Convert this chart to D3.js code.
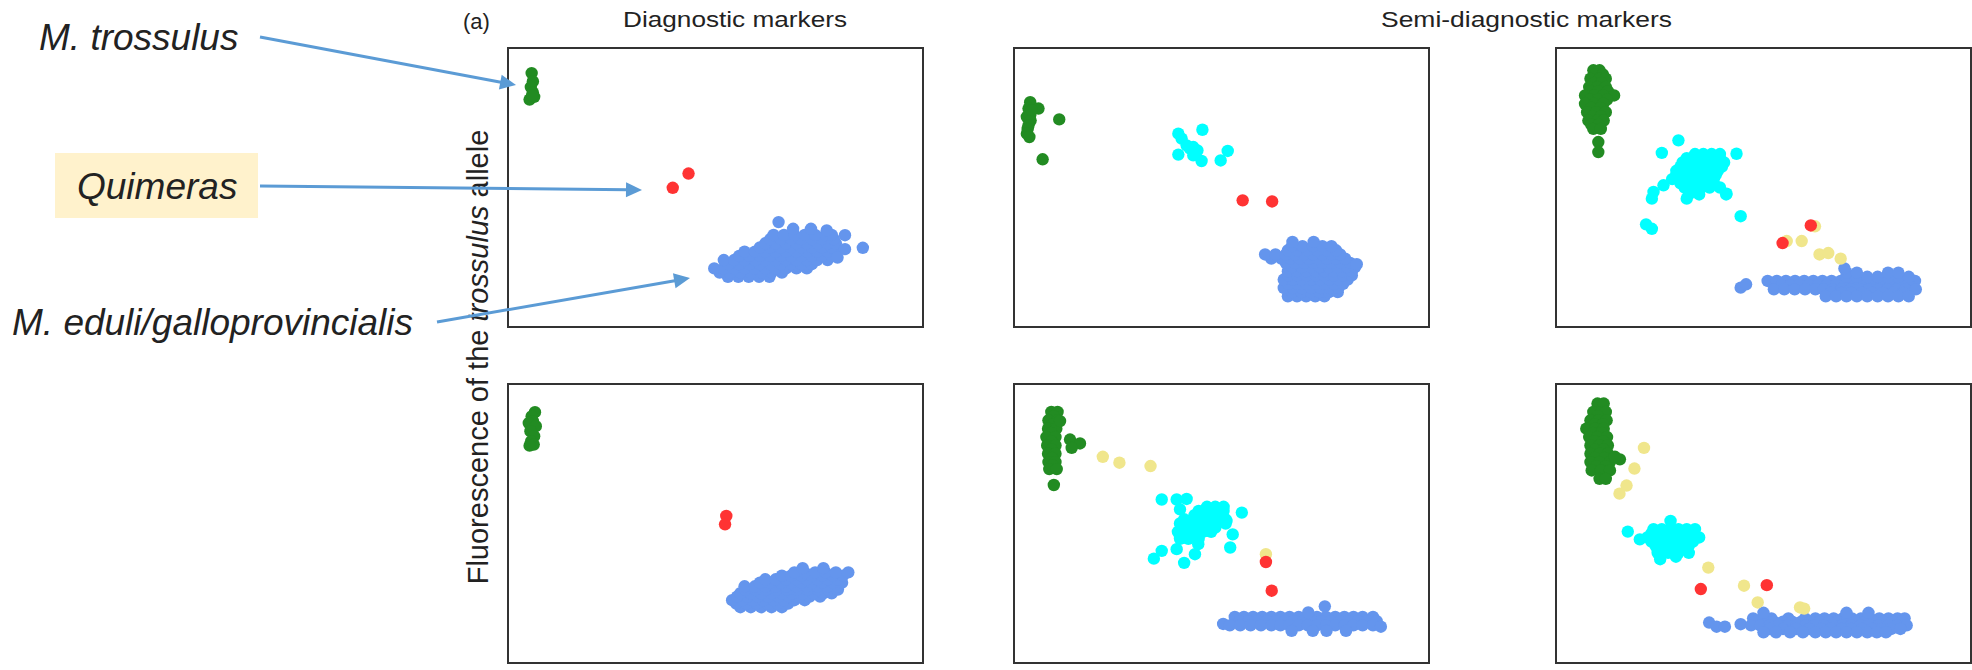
<!DOCTYPE html>
<html>
<head>
<meta charset="utf-8">
<script src="https://cdn.jsdelivr.net/npm/d3@7/dist/d3.min.js"></script>
<style>
  body { margin: 0; background: #fff; }
  text { font-family: "Liberation Sans", Arial, Helvetica, sans-serif; fill: #222; }
</style>
</head>
<body>
<script>
// genotype groups, drawn in this order
var groups = ["trossulus", "heterozygote", "eduli", "undetermined", "quimera"];
var columnTitles = ["Diagnostic markers", "Semi-diagnostic markers"];
var speciesLabels = ["M. trossulus", "Quimeras", "M. eduli/galloprovincialis"];

// values, 0-100 in each panel (x: other allele, y: trossulus allele)
// --- diagnostic marker, top
var d1Tross = [[5.7,91],[6,88],[5.5,86],[6,84],[6.3,82.5],[5.2,81.5],[5.8,83]];
var d1Quim = [[43.5,55],[39.7,49.9]];
var d1Edul = [[53,18],[55.5,18],[58,18],[60.5,18],[63,18],
  [51,19.5],[53.5,19.5],[56,19.5],[58.5,19.5],[61,19.5],[63.5,19.5],[66,19.5],
  [49.7,21],[52,21],[54.5,21],[57,21],[59.5,21],[62,21],[64.5,21],[67,21],[69.5,21],[72,21],
  [53.2,22.5],[55.7,22.5],[58.2,22.5],[60.7,22.5],[63.2,22.5],[65.7,22.5],[68.2,22.5],[70.7,22.5],[73.2,22.5],
  [52,24],[54.5,24],[57,24],[59.5,24],[62,24],[64.5,24],[67,24],[69.5,24],[72,24],[74.5,24],[77,24],
  [55.7,25.5],[58.2,25.5],[60.7,25.5],[63.2,25.5],[65.7,25.5],[68.2,25.5],[70.7,25.5],[73.2,25.5],[75.7,25.5],[78,25.5],
  [57,27],[59.5,27],[62,27],[64.5,27],[67,27],[69.5,27],[72,27],[74.5,27],[77,27],[79,27],
  [60.7,28.5],[63.2,28.5],[65.7,28.5],[68.2,28.5],[70.7,28.5],[73.2,28.5],[75.7,28.5],[78,28.5],
  [62,30],[64.5,30],[67,30],[69.5,30],[72,30],[74.5,30],[77,30],[79,30],
  [63.2,31.5],[65.7,31.5],[68.2,31.5],[70.7,31.5],[73.2,31.5],[75.7,31.5],[78.5,31.5],
  [64,33],[66.5,33],[69,33],[71.5,33],[74,33],[76.5,33],[78,33],
  [68.7,35.2],[73,35.2],[76.8,34.6],[65.2,37.6],
  [81.2,32.9],[85.5,28.4],[81.2,27.9],[79.4,24.9]];

// --- diagnostic marker, bottom
var d2Tross = [[6.5,89.9],[5.7,88.4],[6,86.7],[5,86],[6.7,84.9],[5.4,83.1],[6.3,81.3],[5.6,79.5],[6.2,78.3],[5.2,77.9]];
var d2Quim = [[52.6,52.7],[52.3,49.7]];
var d2Edul = [[56,20],[58.5,20],[61,20],[63.5,20],[66,20],
  [55,21.3],[57.5,21.3],[60,21.3],[62.5,21.3],[65,21.3],[67.5,21.3],
  [54,22.5],[56.5,22.5],[59,22.5],[61.5,22.5],[64,22.5],[66.5,22.5],[69,22.5],[71.5,22.5],
  [55.2,23.8],[57.7,23.8],[60.2,23.8],[62.7,23.8],[65.2,23.8],[67.7,23.8],[70.2,23.8],[72.7,23.8],[75.2,23.8],
  [56,25],[58.5,25],[61,25],[63.5,25],[66,25],[68.5,25],[71,25],[73.5,25],[76,25],[78,25],
  [57.2,26.3],[59.7,26.3],[62.2,26.3],[64.7,26.3],[67.2,26.3],[69.7,26.3],[72.2,26.3],[74.7,26.3],[77.2,26.3],[79.5,26.3],
  [57,27.5],[59.5,27.5],[62,27.5],[64.5,27.5],[67,27.5],[69.5,27.5],[72,27.5],[74.5,27.5],[77,27.5],[79.5,27.5],
  [60.7,28.8],[63.2,28.8],[65.7,28.8],[68.2,28.8],[70.7,28.8],[73.2,28.8],[75.7,28.8],[78.2,28.8],[80.5,28.8],
  [62,30],[64.5,30],[67,30],[69.5,30],[72,30],[74.5,30],[77,30],[79.5,30],
  [66,31.3],[68.2,31.3],[70.7,31.3],[73.2,31.3],[75.7,31.3],[78.2,31.3],[80.7,31.3],
  [69,32.5],[71.5,32.5],[74,32.5],[76.5,32.5],[79,32.5],[82,32.5],
  [71,34],[76,34]];

// --- semi-diagnostic marker 1, top
var s1Tross = [[3.9,80.6],[3.5,78.3],[5.9,78.3],[3.1,75.3],[3.9,75.9],[4,74],[3.5,72.3],[3.3,71],
  [3.1,69.3],[3.7,68.1],[4.3,77.7],[10.9,74.4],[6.9,60.1]];
var s1Het = [[39.6,69.3],[45.4,70.7],[40.4,67.5],[41.6,65.1],[43.2,64.5],[44.2,63.3],[39.6,61.8],
  [43.2,61.5],[45.2,59.5],[49.8,59.7],[51.5,63.1],[42.4,63.9]];
var s1Quim = [[55.1,45.4],[62.2,45]];
var s1Edul = [[66,11],[68.2,11],[70.4,11],[72.6,11],[74.8,11],
  [67,12.5],[69.3,12.5],[71.5,12.5],[73.7,12.5],[75.9,12.5],[78,12.5],
  [65,14],[67.2,14],[69.4,14],[71.6,14],[73.8,14],[76,14],[78.2,14],
  [66.1,15.5],[68.3,15.5],[70.5,15.5],[72.7,15.5],[74.9,15.5],[77.1,15.5],[79.3,15.5],
  [65,17],[67.2,17],[69.4,17],[71.6,17],[73.8,17],[76,17],[78.2,17],[80.4,17],
  [66.1,18.5],[68.3,18.5],[70.5,18.5],[72.7,18.5],[74.9,18.5],[77.1,18.5],[79.3,18.5],[81.4,18.5],
  [66,20],[68.2,20],[70.4,20],[72.6,20],[74.8,20],[77,20],[79.2,20],[81.4,20],
  [67,21.5],[69.3,21.5],[71.5,21.5],[73.7,21.5],[75.9,21.5],[78,21.5],[80.2,21.5],[82.2,21.5],
  [65.5,23],[67.7,23],[69.9,23],[72.1,23],[74.3,23],[76.5,23],[78.7,23],[81,23],[82.6,22.5],
  [62,24.5],[64.4,24.5],[66.6,24.5],[68.8,24.5],[71,24.5],[73.2,24.5],[75.4,24.5],[77.6,24.5],[79.8,24.5],
  [60.5,26],[63,26],[65.5,26],[67.7,26],[69.9,26],[72.1,26],[74.3,26],[76.5,26],[78.6,26],
  [66,27.5],[68.2,27.5],[70.7,27.5],[73.1,27.5],[75.4,27.5],[77.6,27.5],
  [67,29],[69.5,29],[72,29],[74.3,29],[76.5,29],[67.1,30.5],[72.2,30.5]];

// --- semi-diagnostic marker 2, top
var s2Tross = [[9,92],[10.5,92],[9.5,90.5],[11.3,90.5],[8.3,89],[10.5,89],[12,89],[9.2,87.5],[11,87.5],
  [8,86],[10,86],[12,86],[8.2,84.5],[10.2,84.5],[12.5,84.5],
  [7,83],[9.2,83],[11.4,83],[14,83],[8.2,81.5],[10.2,81.5],[12.3,81.5],[7,80],[9.2,80],[11.4,80],
  [8.5,78.5],[10.7,78.5],[7.5,77],[9.7,77],[12,77],[8.8,75.5],[10.8,75.5],
  [7.8,74],[10,74],[11.5,74],[8.5,72.5],[10.3,72.5],[9,71],[10.8,71],[10.2,66.3],[10.2,62.7]];
var s2Het = [[33.5,62],[35.5,62],[37.5,62],[39.5,62],
  [31.5,60.5],[33.5,60.5],[35.5,60.5],[37.5,60.5],[39.5,60.5],
  [30.5,59],[32.5,59],[34.5,59],[36.5,59],[38.5,59],[40.5,59],
  [30,57.5],[32,57.5],[34,57.5],[36,57.5],[38,57.5],[40,57.5],
  [29,56],[31,56],[33,56],[35,56],[37,56],[39,56],
  [29,54.5],[31,54.5],[33,54.5],[35,54.5],[37,54.5],[38.5,54.5],
  [28,53],[30,53],[32,53],[34,53],[36,53],[38,53],
  [30,51.5],[32,51.5],[34,51.5],[36,51.5],[38,51.5],
  [31,50],[33,50],[35,50],[37,50],[39.5,50],[32,47.5],[34.5,47.5],[41,47.5],
  [29.5,66.9],[25.5,62.4],[43.5,62.1],[25.9,50.8],[23.5,48.4],[23.1,46],[31.5,46],[41.1,47.8],
  [44.5,39.7],[21.7,36.8],[23.1,35.2]];
var s2Und = [[62.4,36.1],[55.6,30.8],[59.2,30.8],[63.5,26],[65.6,26.5],[68.6,24.5]];
var s2Quim = [[61.4,36.4],[54.6,30.1]];
var s2Edul = [[51,16.5],[53.2,16.5],[55.4,16.5],[57.6,16.5],[59.8,16.5],[62,16.5],[64.2,16.5],[66.4,16.5],
  [68.6,16.5],[70.8,16.5],[73,16.5],[75.2,16.5],[77.4,16.5],[79.6,16.5],[81.8,16.5],[84,16.5],[86.5,16.5],
  [54.3,15],[56.5,15],[58.7,15],[60.9,15],[63.1,15],[65.3,15],[67.5,15],[69.7,15],[71.9,15],
  [74.1,15],[76.3,15],[78.5,15],[80.7,15],[82.9,15],[85.1,15],
  [52.5,13.5],[55,13.5],[57.5,13.5],[60,13.5],[62.5,13.5],[64.5,13.5],[66.6,13.5],[68.8,13.5],
  [71,13.5],[73.2,13.5],[75.4,13.5],[77.6,13.5],[79.8,13.5],[82,13.5],[84.2,13.5],[86.7,13.5],
  [66.2,12.2],[68.8,12.2],[71.2,12.2],[73.8,12.2],[76.2,12.2],[78.7,12.2],[81.2,12.2],[83.7,12.2],
  [65,11],[67.5,11],[70,11],[72.5,11],[75,11],[77.5,11],[80,11],[82.5,11],[85,11],
  [70,18],[72.5,18],[75,18],[77.5,18],[80,18],[82.5,18],[85,18],
  [70,19.5],[72.5,19.5],[80,19.5],[82.5,19.5],[69.5,21],[44.5,14.1],[45.8,15.3]];

// --- semi-diagnostic marker 1, bottom
var s3Tross = [[9,90],[10.5,90],[9.5,88.5],[8.3,87],[10.5,87],[9.3,85.5],[8.2,84],[10.2,84],[9,82.5],[7.8,81],[10,81],
  [9,79.5],[8,78],[10,78],[9,76.5],[8.2,75],[10,75],[9.2,73.5],[8.3,72],[10,72],[9.3,70.8],[8.5,69.5],[10.3,69.5],
  [13.5,80.1],[15.9,78.7],[13.9,77.1],[11.1,86.7],[9.6,63.8]];
var s3Het = [[46.5,56],[48.5,56],[50.5,56],[44.5,54.5],[46.5,54.5],[48.5,54.5],[50.5,54.5],
  [43.5,53],[45.5,53],[47.5,53],[49.5,53],[54.9,53.9],
  [41,51.5],[43,51.5],[45,51.5],[47,51.5],[49,51.5],[51,51.5],
  [40,50],[42,50],[44,50],[46,50],[48,50],[51,50],
  [40.5,48.5],[42.5,48.5],[44.5,48.5],[46.5,48.5],[48.5,48.5],
  [39.5,47],[41.5,47],[43.5,47],[45.5,47],[47.5,47],[40,44.5],[42,44.5],[44.5,44.5],
  [35.6,58.6],[39.2,58.6],[41.6,58.8],[40,55.1],[52.7,46.1],[52.1,41.4],[44.4,42.6],[43.6,39],
  [41,35.9],[39.2,40.8],[35.6,40.2],[33.7,37.4],[51.2,50.9]];
var s3Und = [[21.4,73.9],[25.4,71.8],[32.9,70.6],[60.7,39]];
var s3Quim = [[60.7,36.2],[62.1,25.9]];
var s3Edul = [[53.2,16.5],[55.4,16.5],[57.6,16.5],[59.8,16.5],[62,16.5],[64.2,16.5],[66.4,16.5],
  [68.6,16.5],[70.8,16.5],[73,16.5],[75.2,16.5],[77.4,16.5],[79.6,16.5],[81.8,16.5],[84,16.5],[86.5,16.5],
  [54.3,15],[56.5,15],[58.7,15],[60.9,15],[63.1,15],[65.3,15],[67.5,15],[69.7,15],[71.9,15],
  [74.1,15],[76.3,15],[78.5,15],[80.7,15],[82.9,15],[85.1,15],[87.4,15],
  [50.4,14],[52,13.5],[54.5,13.5],[57,13.5],[59.5,13.5],[62,13.5],[64.2,13.5],[66.4,13.5],[68.6,13.5],
  [70.8,13.5],[73,13.5],[75.2,13.5],[77.4,13.5],[79.6,13.5],[81.8,13.5],[84,13.5],[86.5,13.5],[88.4,13],
  [66.9,11.5],[72,11.5],[75.3,11.5],[80,11.5],[74.9,20.3],[70.9,18.1]];

// --- semi-diagnostic marker 2, bottom
var s4Tross = [[10,93],[11.5,93],[9,90],[11,90],[12,90],[10,88.5],[8.3,87],[10.3,87],[12.2,87],[9.3,85.5],[11.3,85.5],
  [7.3,84],[9.5,84],[11.5,84],[9,82.5],[11,82.5],[8,81],[10,81],[12.3,81],[9.3,79.5],[11.4,79.5],
  [8.3,78],[10.5,78],[12.5,78],[9.4,76.5],[11.5,76.5],
  [8.3,75],[10.5,75],[12.5,75],[9.4,73.5],[11.7,73.5],[8.3,72],[10.5,72],[13,72],[15.4,73],[14.2,73.9],
  [9.7,70.5],[11.9,70.5],[8.6,69],[10.8,69],[13,69],[10.5,66],[12,66]];
var s4Het = [[23.5,48],[25.5,48],[27.5,48],[29.5,48],[31.5,48],[33.5,48],
  [23,46.5],[25,46.5],[27,46.5],[29,46.5],[31,46.5],[33,46.5],
  [22,45],[24,45],[26,45],[28,45],[30,45],[32,45],[34.5,45],
  [23,43.5],[25,43.5],[27,43.5],[29,43.5],[31,43.5],[33,43.5],
  [24,42],[26,42],[28,42],[30,42],[32,42],[25.5,40.8],[28,40.8],[30.5,40.8],
  [24.5,39.5],[27,39.5],[29.5,39.5],[32,39.5],
  [27.6,50.9],[17.3,47.1],[20.2,44.3],[25.1,37.2],[28.9,38.1]];
var s4Und = [[21.2,77.1],[18.9,69.7],[17,63.6],[15.3,60.7],[36.7,34.2],[45.3,27.7],[48.6,21.7],[58.8,19.9],[59.8,19.5]];
var s4Quim = [[34.9,26.5],[50.8,27.9]];
var s4Edul = [[47.5,16],[49.7,16],[51.9,16],[56,16],[60,16],[62.5,16],[64.7,16],[66.9,16],[69.1,16],
  [71.3,16],[73.5,16],[75.7,16],[77.9,16],[80.1,16],[82.3,16],[84,16],
  [48.1,14.8],[50.3,14.8],[52.5,14.8],[54.7,14.8],[56.9,14.8],[59.1,14.8],[61.3,14.8],[63.5,14.8],[65.7,14.8],
  [67.9,14.8],[70.1,14.8],[72.3,14.8],[74.5,14.8],[76.7,14.8],[78.9,14.8],[81.1,14.8],[83.3,14.8],
  [36.9,14.5],[38.7,13],[40.7,13],[44.5,13.9],[47,13.5],[49.2,13.5],[51.4,13.5],[53.6,13.5],[55.8,13.5],
  [58,13.5],[60.2,13.5],[62.4,13.5],[64.6,13.5],[66.8,13.5],[69,13.5],[71.2,13.5],[73.4,13.5],
  [75.6,13.5],[77.8,13.5],[80,13.5],[82.2,13.5],[84.5,13.5],
  [51.5,12.2],[54.7,12.2],[57.9,12.2],[61,12.2],[64,12.2],[66.2,12.2],[68.8,12.2],[71.2,12.2],
  [73.8,12.2],[76.2,12.2],[78.4,12.2],[80.8,12.2],[83,12.2],
  [50,11],[53,11],[56.4,11],[59.5,11],[62.5,11],[65,11],[67.5,11],[70,11],[72.5,11],[75,11],[77.3,11],[79.5,11],
  [50,18],[70,18],[75.3,18]];

var panels = [
  {row: 0, col: 0, trossulus: d1Tross, quimera: d1Quim, eduli: d1Edul},
  {row: 1, col: 0, trossulus: d2Tross, quimera: d2Quim, eduli: d2Edul},
  {row: 0, col: 1, trossulus: s1Tross, heterozygote: s1Het, quimera: s1Quim, eduli: s1Edul},
  {row: 0, col: 2, trossulus: s2Tross, heterozygote: s2Het, undetermined: s2Und, quimera: s2Quim, eduli: s2Edul},
  {row: 1, col: 1, trossulus: s3Tross, heterozygote: s3Het, undetermined: s3Und, quimera: s3Quim, eduli: s3Edul},
  {row: 1, col: 2, trossulus: s4Tross, heterozygote: s4Het, undetermined: s4Und, quimera: s4Quim, eduli: s4Edul}
];

var color = d3.scaleOrdinal()
  .domain(groups)
  .range(["#228B22", "#00FFFF", "#6495ED", "#F0E68C", "#FF3333"]);

var width = 1972, height = 670;
var boxW = 415, boxH = 279;
var colX = [508, 1014, 1556], rowY = [48, 384];
var arrowColor = "#5B9BD5";

var svg = d3.select("body").append("svg")
  .attr("width", width)
  .attr("height", height);

var x = d3.scaleLinear().domain([0, 100]).range([0, boxW]);
var y = d3.scaleLinear().domain([0, 100]).range([boxH, 0]);

panels.forEach(function (p) {
  var g = svg.append("g")
    .attr("transform", "translate(" + colX[p.col] + "," + rowY[p.row] + ")");
  groups.forEach(function (k) {
    if (!p[k]) return;
    g.append("g").selectAll("circle").data(p[k])
      .enter().append("circle")
      .attr("cx", function (d) { return x(d[0]); })
      .attr("cy", function (d) { return y(d[1]); })
      .attr("r", 6.2)
      .attr("fill", color(k));
  });
  g.append("rect")
    .attr("width", boxW).attr("height", boxH)
    .attr("fill", "none").attr("stroke", "#333").attr("stroke-width", 2);
});

// titles
svg.append("text").attr("x", 463).attr("y", 29).style("font-size", "22px").text("(a)");
svg.append("text").attr("x", 623).attr("y", 27).style("font-size", "22px")
  .attr("textLength", 224).attr("lengthAdjust", "spacingAndGlyphs").text(columnTitles[0]);
svg.append("text").attr("x", 1381).attr("y", 27).style("font-size", "22px")
  .attr("textLength", 291).attr("lengthAdjust", "spacingAndGlyphs").text(columnTitles[1]);

// y axis label
var yl = svg.append("text")
  .attr("transform", "translate(488,357) rotate(-90)")
  .attr("text-anchor", "middle")
  .style("font-size", "29px");
yl.append("tspan").text("Fluorescence of the ");
yl.append("tspan").style("font-style", "italic").text("trossulus");
yl.append("tspan").text(" allele");

// species labels with arrows
svg.append("rect").attr("x", 55).attr("y", 153).attr("width", 203).attr("height", 65).attr("fill", "#FFF2CC");
var labelPos = [[39, 50], [77, 199], [12, 335]];
speciesLabels.forEach(function (t, i) {
  svg.append("text").attr("x", labelPos[i][0]).attr("y", labelPos[i][1])
    .style("font-size", "37px").style("font-style", "italic").text(t);
});

var arrows = [[[260, 37], [516, 85]], [[260, 186], [642, 190]], [[437, 322], [690, 278]]];
arrows.forEach(function (a) {
  var x0 = a[0][0], y0 = a[0][1], x1 = a[1][0], y1 = a[1][1];
  var ang = Math.atan2(y1 - y0, x1 - x0);
  var len = 16, half = 7.5;
  var bx = x1 - len * Math.cos(ang), by = y1 - len * Math.sin(ang);
  svg.append("line").attr("x1", x0).attr("y1", y0).attr("x2", bx + 2 * Math.cos(ang)).attr("y2", by + 2 * Math.sin(ang))
    .attr("stroke", arrowColor).attr("stroke-width", 3);
  svg.append("path")
    .attr("d", "M" + x1 + "," + y1 +
      "L" + (bx - half * Math.sin(ang)) + "," + (by + half * Math.cos(ang)) +
      "L" + (bx + half * Math.sin(ang)) + "," + (by - half * Math.cos(ang)) + "Z")
    .attr("fill", arrowColor);
});
</script>
</body>
</html>
